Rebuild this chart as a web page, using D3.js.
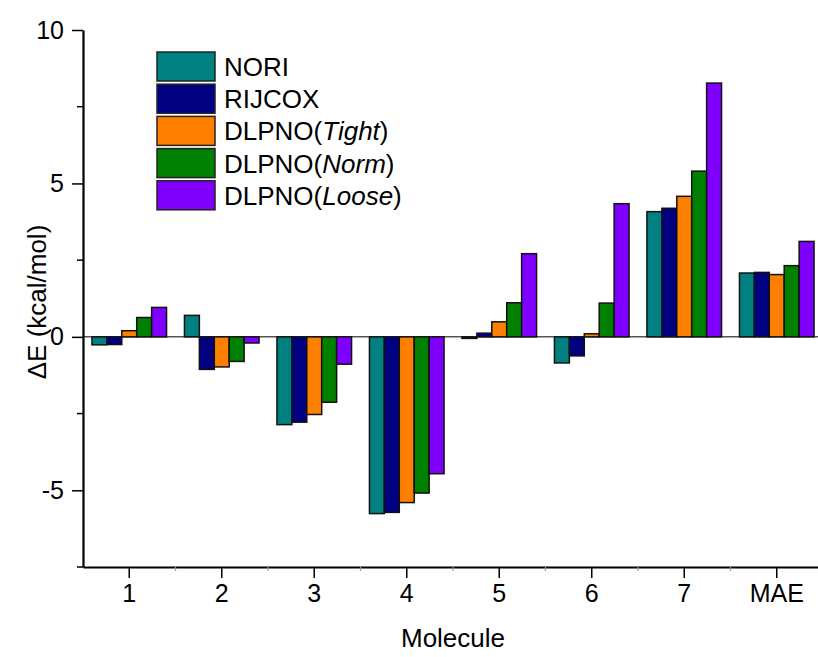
<!DOCTYPE html>
<html>
<head>
<meta charset="utf-8">
<script src="https://cdn.jsdelivr.net/npm/d3@7"></script>
<style>
  body { margin: 0; background: #fff; }
  svg { display: block; font-family: Arial, "Liberation Sans", sans-serif; }
</style>
</head>
<body>
<svg id="chart" width="818" height="657"></svg>
<script>
// Categories and series
var molecules = ["1", "2", "3", "4", "5", "6", "7", "MAE"];
var seriesNames = ["NORI", "RIJCOX", "DLPNO(Tight)", "DLPNO(Norm)", "DLPNO(Loose)"];
var seriesColors = ["#008080", "#000080", "#ff8000", "#008000", "#8000ff"];

// Values (kcal/mol), one array per series
var nori   = [-0.26, 0.70, -2.86, -5.76, -0.05, -0.85, 4.08, 2.08];
var rijcox = [-0.25, -1.06, -2.78, -5.72, 0.12, -0.62, 4.19, 2.10];
var tight  = [0.20, -0.98, -2.53, -5.40, 0.49, 0.10, 4.58, 2.03];
var norm   = [0.63, -0.80, -2.13, -5.09, 1.11, 1.10, 5.40, 2.32];
var loose  = [0.96, -0.20, -0.89, -4.46, 2.71, 4.34, 8.27, 3.11];
var seriesValues = [nori, rijcox, tight, norm, loose];

var yTicks = [-5, 0, 5, 10];
var yMinorTicks = [-7.5, -2.5, 2.5, 7.5];

var svg = d3.select("#chart");

// Scales
var x = d3.scaleBand().domain(molecules).range([83, 823]).paddingInner(0).paddingOuter(0);
var xSub = d3.scaleBand().domain(seriesNames).range([0, x.bandwidth()]).paddingInner(0).paddingOuter(0.6);
var y = d3.scaleLinear().domain([-7.5, 10]).range([567, 30]);

// Build a flat table for the bars
var bars = [];
molecules.forEach(function (m, i) {
  seriesNames.forEach(function (s, j) {
    bars.push({ molecule: m, series: s, value: seriesValues[j][i], color: seriesColors[j] });
  });
});

// Zero reference line
svg.append("line")
  .attr("x1", 83).attr("x2", 818)
  .attr("y1", y(0)).attr("y2", y(0))
  .attr("stroke", "#555").attr("stroke-width", 1.5);

// Bars
svg.append("g")
  .selectAll("rect")
  .data(bars)
  .enter()
  .append("rect")
  .attr("x", function (d) { return x(d.molecule) + xSub(d.series); })
  .attr("width", xSub.bandwidth())
  .attr("y", function (d) { return y(Math.max(0, d.value)); })
  .attr("height", function (d) { return Math.abs(y(d.value) - y(0)); })
  .attr("fill", function (d) { return d.color; })
  .attr("stroke", "#111")
  .attr("stroke-width", 1.5);

// Y axis (plain hyphen for negatives)
var yAxis = d3.axisLeft(y).tickValues(yTicks).tickSize(11).tickSizeOuter(0)
  .tickFormat(function (d) { return String(d); });
var gy = svg.append("g").attr("transform", "translate(83,0)").call(yAxis);
gy.select(".domain").attr("stroke-width", 2.2);
gy.selectAll(".tick line").attr("stroke-width", 1.5);
gy.selectAll(".tick text").attr("font-size", 25).attr("x", -19).attr("font-family", "Arial, 'Liberation Sans', sans-serif");

// Y minor ticks
svg.append("g")
  .selectAll("line")
  .data(yMinorTicks)
  .enter()
  .append("line")
  .attr("x1", 77).attr("x2", 83)
  .attr("y1", function (d) { return y(d); })
  .attr("y2", function (d) { return y(d); })
  .attr("stroke", "#000").attr("stroke-width", 1.5);

// X axis
var xAxis = d3.axisBottom(x).tickSize(11).tickSizeOuter(0);
var gx = svg.append("g").attr("transform", "translate(0,567)").call(xAxis);
gx.select(".domain").attr("stroke-width", 2.2);
gx.selectAll(".tick line").attr("stroke-width", 1.5);
gx.selectAll(".tick text").attr("font-size", 25).attr("y", 17).attr("font-family", "Arial, 'Liberation Sans', sans-serif");

// X minor ticks at group boundaries
svg.append("g")
  .selectAll("line")
  .data(molecules.slice(1))
  .enter()
  .append("line")
  .attr("x1", function (d) { return x(d); })
  .attr("x2", function (d) { return x(d); })
  .attr("y1", 567).attr("y2", 571)
  .attr("stroke", "#999").attr("stroke-width", 1.2);

// Axis titles
svg.append("text")
  .attr("x", 453).attr("y", 647)
  .attr("text-anchor", "middle")
  .attr("font-size", 26)
  .text("Molecule");

svg.append("text")
  .attr("transform", "translate(46,302) rotate(-90)")
  .attr("text-anchor", "middle")
  .attr("font-size", 26)
  .text("\u0394E (kcal/mol)");

// Legend
var legend = svg.append("g").attr("transform", "translate(157,52)");
var legendRows = legend.selectAll("g")
  .data(seriesNames)
  .enter()
  .append("g")
  .attr("transform", function (d, i) { return "translate(0," + i * 32.2 + ")"; });

legendRows.append("rect")
  .attr("width", 58).attr("height", 29)
  .attr("fill", function (d, i) { return seriesColors[i]; })
  .attr("stroke", "#222").attr("stroke-width", 1.5);

var legendText = legendRows.append("text")
  .attr("x", 67).attr("y", 24)
  .attr("font-size", 26);

legendText.each(function (d) {
  var t = d3.select(this);
  var m = d.match(/^(.*)\((.*)\)$/);
  if (m) {
    t.append("tspan").text(m[1] + "(");
    t.append("tspan").attr("font-style", "italic").text(m[2]);
    t.append("tspan").text(")");
  } else {
    t.text(d);
  }
});
</script>
</body>
</html>
